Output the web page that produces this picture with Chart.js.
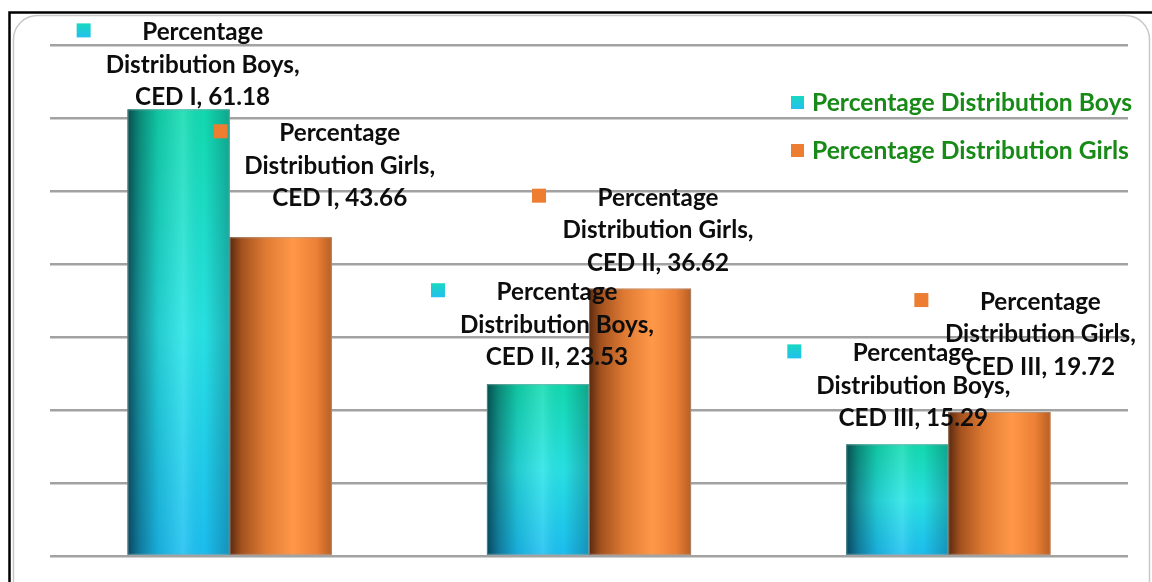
<!DOCTYPE html>
<html><head><meta charset="utf-8">
<script src="https://cdn.jsdelivr.net/npm/chart.js@4.4.0/dist/chart.umd.min.js"></script>
<style>html,body{margin:0;padding:0;background:#fff;overflow:hidden}#wrap{width:1152px;height:582px;position:relative}canvas{display:block}</style>
</head><body><div id="wrap"><canvas id="c" width="1152" height="582"></canvas></div>
<script>
// ---- data ----
const categories = ['CED I', 'CED II', 'CED III'];
const boysValues = [61.18, 23.53, 15.29];
const girlsValues = [43.66, 36.62, 19.72];
const seriesNames = ['Percentage Distribution Boys', 'Percentage Distribution Girls'];
const yMin = 0, yMax = 70, yStep = 10;

// ---- label placement (dx from bar centre, dy of last line from bar top) ----
const labelOffsets = [
  [[24, -12], [19, -27], [16, -26]],
  [[59, -39], [18, -26], [41, -45]]
];
const FONT_FAMILY = 'Lato, "Open Sans", sans-serif';

function fitSize(ctx, text, target, base) {
  ctx.font = 'bold ' + base + 'px ' + FONT_FAMILY;
  const w = ctx.measureText(text).width;
  return base * target / w;
}

const framePlugin = {
  id: 'frame',
  beforeDraw(chart) {
    const ctx = chart.ctx;
    ctx.save();
    ctx.fillStyle = '#fff';
    ctx.fillRect(0, 0, chart.width, chart.height);
    ctx.strokeStyle = '#c8c8c8';
    ctx.lineWidth = 1.5;
    ctx.beginPath();
    ctx.roundRect(13.5, 15.5, 1136, 600, 24);
    ctx.stroke();
    ctx.strokeStyle = '#000';
    ctx.lineWidth = 2.5;
    ctx.beginPath();
    ctx.moveTo(9.5, 600); ctx.lineTo(9.5, 12.5); ctx.lineTo(1160, 12.5);
    ctx.stroke();
    ctx.restore();
  }
};

const barPaintPlugin = {
  id: 'barPaint',
  afterDatasetsDraw(chart) {
    const ctx = chart.ctx;
    ctx.save();
    chart.data.datasets.forEach((ds, d) => {
      const meta = chart.getDatasetMeta(d);
      meta.data.forEach((el) => {
        const w = el.width, x0 = el.x - w / 2, x1 = el.x + w / 2;
        const top = Math.min(el.y, el.base), bot = Math.max(el.y, el.base);
        const h = bot - top;
        if (d === 0) {
          const vg = ctx.createLinearGradient(0, top, 0, bot);
          vg.addColorStop(0, '#12dcb0');
          vg.addColorStop(0.5, '#28e4e6');
          vg.addColorStop(1, '#1cc0f2');
          ctx.fillStyle = vg;
          ctx.fillRect(x0, top, w, h);
          const hg = ctx.createLinearGradient(x0, 0, x1, 0);
          hg.addColorStop(0, 'rgba(0,25,40,0.72)');
          hg.addColorStop(0.12, 'rgba(0,25,40,0.42)');
          hg.addColorStop(0.3, 'rgba(0,25,40,0.12)');
          hg.addColorStop(0.55, 'rgba(255,255,255,0.12)');
          hg.addColorStop(0.75, 'rgba(0,25,40,0.02)');
          hg.addColorStop(1, 'rgba(0,25,40,0.28)');
          ctx.fillStyle = hg;
          ctx.fillRect(x0, top, w, h);
        } else {
          const hg = ctx.createLinearGradient(x0, 0, x1, 0);
          hg.addColorStop(0, '#5a2a0e');
          hg.addColorStop(0.12, '#a4521f');
          hg.addColorStop(0.35, '#df7a33');
          hg.addColorStop(0.62, '#ff9848');
          hg.addColorStop(0.85, '#ec8036');
          hg.addColorStop(1, '#b85f24');
          ctx.fillStyle = hg;
          ctx.fillRect(x0, top, w, h);
        }
        ctx.strokeStyle = 'rgba(160,160,160,0.55)';
        ctx.lineWidth = 1;
        ctx.strokeRect(x0 + 0.5, top + 0.5, w - 1, h - 1);
      });
    });
    ctx.restore();
  }
};

function keyFill(ctx, d, x, y, s) {
  if (d === 0) {
    const g = ctx.createLinearGradient(0, y, 0, y + s);
    g.addColorStop(0, '#18d8c0');
    g.addColorStop(1, '#22c0ee');
    ctx.fillStyle = g;
  } else {
    ctx.fillStyle = '#ed7d31';
  }
  ctx.fillRect(x, y, s, s);
}

const labelPlugin = {
  id: 'dataLabels',
  afterDatasetsDraw(chart) {
    const ctx = chart.ctx;
    ctx.save();
    const size = fitSize(ctx, 'Distribution Boys,', 194, 22);
    ctx.font = 'bold ' + size.toFixed(2) + 'px ' + FONT_FAMILY;
    ctx.textAlign = 'center';
    ctx.textBaseline = 'middle';
    const lineH = 32.5;
    chart.data.datasets.forEach((ds, d) => {
      const meta = chart.getDatasetMeta(d);
      meta.data.forEach((el, i) => {
        const [dx, dy] = labelOffsets[d][i];
        const cx = el.x + dx;
        const lastY = el.y + dy;
        const parts = ds.label.split(' ');
        const lines = [parts[0], parts.slice(1).join(' ') + ',', chart.data.labels[i] + ', ' + ds.data[i].toFixed(2)];
        const firstY = lastY - 2 * lineH;
        keyFill(ctx, d, cx - 119 - 7, firstY - 2 - 7, 14);
        ctx.fillStyle = '#0d0d0d';
        lines.forEach((t, k) => ctx.fillText(t, cx, firstY + k * lineH));
      });
    });
    ctx.restore();
  }
};

const legendPlugin = {
  id: 'customLegend',
  afterDraw(chart) {
    const ctx = chart.ctx;
    ctx.save();
    const size = fitSize(ctx, seriesNames[0], 320, 21);
    ctx.font = 'bold ' + size.toFixed(2) + 'px ' + FONT_FAMILY;
    ctx.textAlign = 'left';
    ctx.textBaseline = 'middle';
    const ys = [103, 151];
    chart.data.datasets.forEach((ds, d) => {
      keyFill(ctx, d, 791, ys[d] - 7, 13);
      ctx.fillStyle = '#178a17';
      ctx.fillText(ds.label, 812, ys[d]);
    });
    ctx.restore();
  }
};

new Chart(document.getElementById('c'), {
  type: 'bar',
  data: {
    labels: categories,
    datasets: [
      { label: seriesNames[0], data: boysValues, backgroundColor: '#22cce0', borderWidth: 0 },
      { label: seriesNames[1], data: girlsValues, backgroundColor: '#ed7d31', borderWidth: 0 }
    ]
  },
  options: {
    responsive: false,
    devicePixelRatio: 1,
    animation: false,
    layout: { padding: { left: 50, right: 24, top: 45, bottom: 26 } },
    plugins: { legend: { display: false }, tooltip: { enabled: false } },
    datasets: { bar: { barPercentage: 1.0, categoryPercentage: 0.568 } },
    scales: {
      x: { display: false },
      y: {
        min: yMin, max: yMax,
        ticks: { display: false, stepSize: yStep },
        grid: { color: '#a2a2a2', lineWidth: 2.5, drawTicks: false },
        border: { display: false }
      }
    }
  },
  plugins: [framePlugin, barPaintPlugin, labelPlugin, legendPlugin]
});
</script>
</body></html>
